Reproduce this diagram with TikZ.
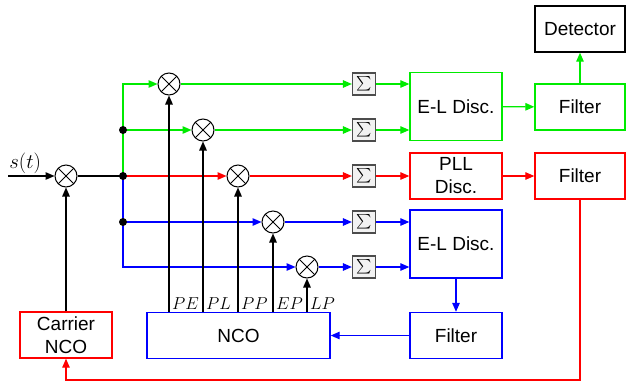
\documentclass[tikz,border=0pt]{standalone}
\usepackage{fontspec}
\usepackage{amsmath, amssymb}
\usetikzlibrary{positioning, arrows.meta, calc}
\newfontfamily\blockfont{Liberation Sans}
\definecolor{trkgreen}{RGB}{0,235,0}
\definecolor{trkred}{RGB}{255,0,0}
\definecolor{trkblue}{RGB}{0,0,255}
\newcommand{\sumsign}{\scalebox{1.45}{$\sum$}}

\begin{document}
\begin{tikzpicture}[x=1pt, y=-1pt, line width=1.3pt, >={Triangle[length=9pt, width=7.5pt]},
    mixer/.style={circle, draw, line width=1pt, fill=white, minimum size=22pt, inner sep=0pt,
      path picture={\draw[line width=1pt] (path picture bounding box.north west) -- (path picture bounding box.south east)
        (path picture bounding box.north east) -- (path picture bounding box.south west);}},
    sumbox/.style={draw=gray!60!black, fill=gray!10, line width=1.2pt, minimum width=23pt, minimum height=22pt, inner sep=0pt},
    block/.style={draw, line width=1.4pt, minimum width=92pt, minimum height=46pt, inner sep=0pt, align=center,
      font=\blockfont\fontsize{19}{23}\selectfont},
    dot/.style={circle, fill, inner sep=0pt, minimum size=8pt},
    tap/.style={above right, inner xsep=2.5pt, inner ysep=2pt, font=\fontsize{17.28}{18}\selectfont}]
  \useasboundingbox (0,0) rectangle (626,386);

  % blocks
  \node[block, draw=trkgreen, minimum height=68pt] (elg) at (456,106.5) {E-L Disc.};
  \node[block, draw=trkred] (pll) at (456,176) {PLL\\Disc.};
  \node[block, draw=trkblue, minimum height=68pt] (elb) at (456,244) {E-L Disc.};
  \node[block, draw=trkblue] (fb) at (456,335.5) {Filter};
  \node[block, draw=trkblue, minimum width=183pt] (nco) at (238.5,335.5) {NCO};
  \node[block, draw=trkred] (cnco) at (66,335) {Carrier\\NCO};
  \node[block, draw=trkgreen, minimum width=90pt] (fg) at (580,107) {Filter};
  \node[block, draw=trkred, minimum width=90pt] (fr) at (580,176) {Filter};
  \node[block, minimum width=90pt] (det) at (580,29) {Detector};

  % correlators
  \node[mixer] (cmix) at (66,176) {};
  \node[mixer] (mPE) at (169,84) {};
  \node[mixer] (mPL) at (203,130) {};
  \node[mixer] (mPP) at (238,176) {};
  \node[mixer] (mEP) at (273,222) {};
  \node[mixer] (mLP) at (307,267) {};
  \node[sumbox] (sPE) at (364,84) {\sumsign};
  \node[sumbox] (sPL) at (364,130) {\sumsign};
  \node[sumbox] (sPP) at (364,176) {\sumsign};
  \node[sumbox] (sEP) at (364,222) {\sumsign};
  \node[sumbox] (sLP) at (364,267) {\sumsign};

  \coordinate (sin) at (8,176);
  \coordinate (jPL) at (123,130);
  \coordinate (jPP) at (123,176);
  \coordinate (jEP) at (123,222);
  \coordinate (bot) at (66,380);

  % branches
  \draw[->] (sin) -- node[above, pos=0.37, inner sep=2pt, font=\fontsize{20.74}{22}\selectfont] {$s(t)$} (cmix);
  \draw (cmix) -- (jPP);
  \draw[trkgreen, ->] (jPP) |- (mPE);
  \draw[trkgreen, ->] (jPL) -- (mPL);
  \draw[trkred, ->] (jPP) -- (mPP);
  \draw[trkblue, ->] (jPP) |- (mLP);
  \draw[trkblue, ->] (jEP) -- (mEP);
  \foreach \j in {jPL, jPP, jEP}
    \node[dot] at (\j) {};

  % replicas from NCO
  \draw[->] (nco.north -| mPE) node[tap] {$PE$} -- (mPE);
  \draw[->] (nco.north -| mPL) node[tap] {$PL$} -- (mPL);
  \draw[->] (nco.north -| mPP) node[tap] {$PP$} -- (mPP);
  \draw[->] (nco.north -| mEP) node[tap] {$EP$} -- (mEP);
  \draw[->] (nco.north -| mLP) node[tap] {$LP$} -- (mLP);
  \draw[->] (cnco) -- (cmix);

  % integrate and dump
  \draw[trkgreen, ->] (mPE) -- (sPE);
  \draw[trkgreen, ->] (mPL) -- (sPL);
  \draw[trkred, ->] (mPP) -- (sPP);
  \draw[trkblue, ->] (mEP) -- (sEP);
  \draw[trkblue, ->] (mLP) -- (sLP);
  \draw[trkgreen, ->] (sPE) -- (sPE -| elg.west);
  \draw[trkgreen, ->] (sPL) -- (sPL -| elg.west);
  \draw[trkred, ->] (sPP) -- (pll);
  \draw[trkblue, ->] (sEP) -- (sEP -| elb.west);
  \draw[trkblue, ->] (sLP) -- (sLP -| elb.west);

  % loops
  \draw[trkgreen, ->] (elg) -- (fg);
  \draw[trkgreen, ->] (fg) -- (det);
  \draw[trkred, ->] (pll) -- (fr);
  \draw[trkred, ->] (fr) |- (bot) -- (cnco);
  \draw[trkblue, ->] (elb) -- (fb);
  \draw[trkblue, ->] (fb) -- (nco);
\end{tikzpicture}
\end{document}
